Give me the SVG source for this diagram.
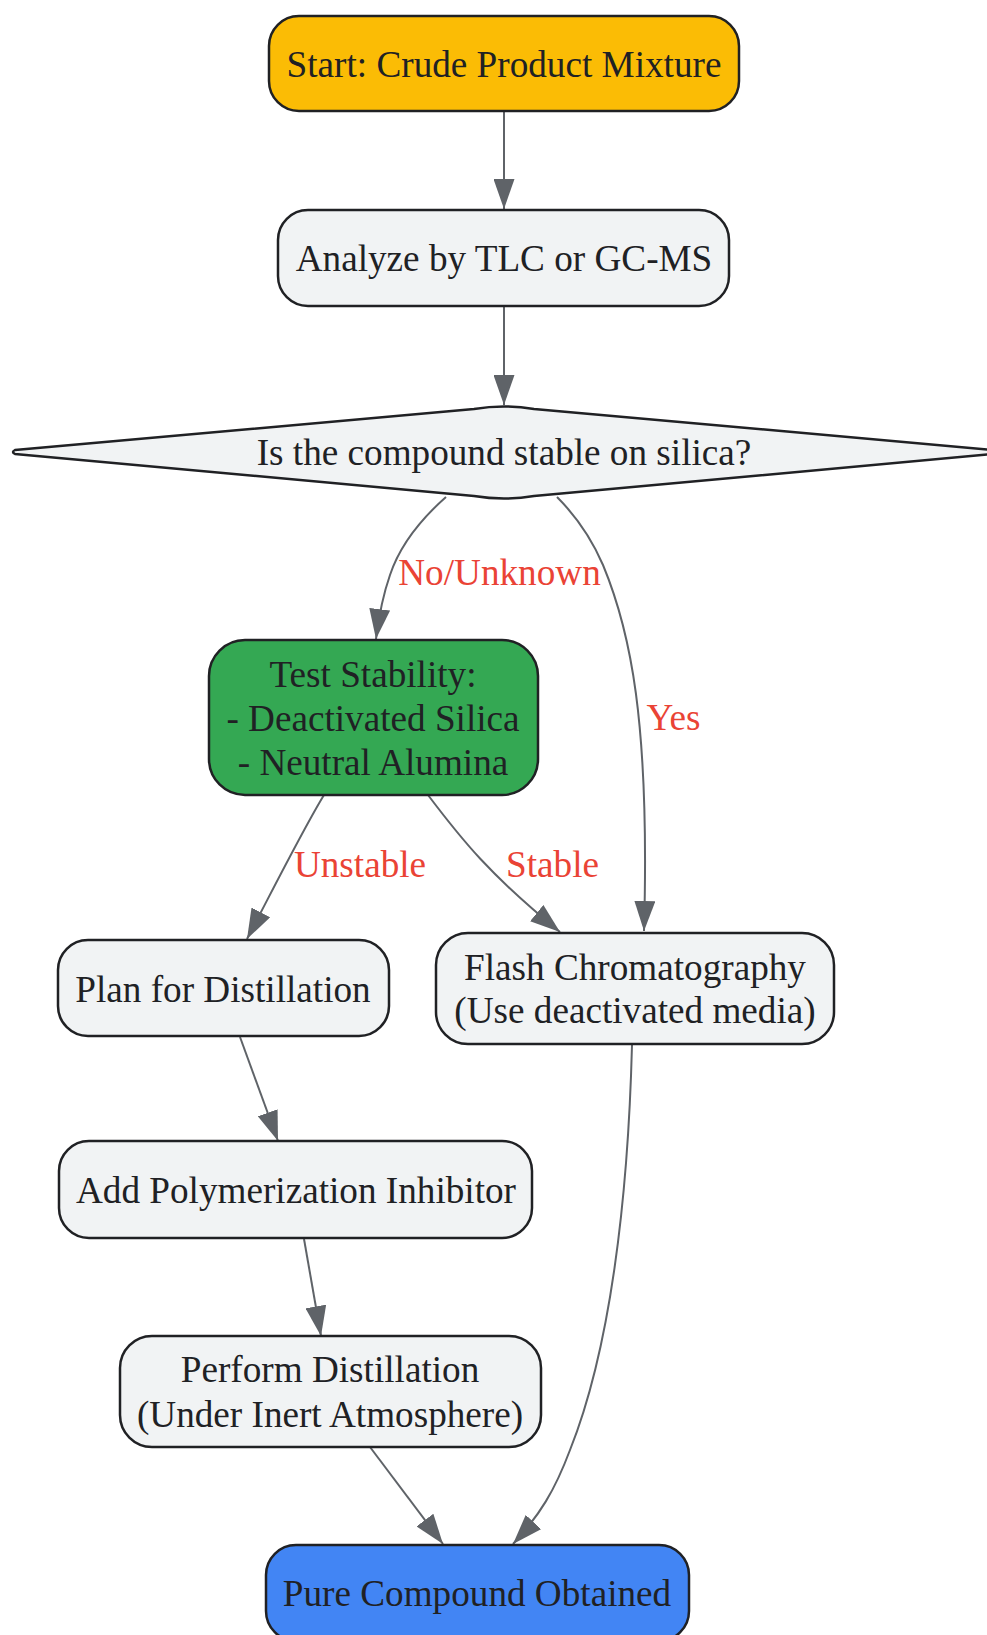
<svg xmlns="http://www.w3.org/2000/svg" width="987" height="1635" viewBox="0 0 987 1635">
<defs>
<style>
.node rect, .node path { stroke: #202124; stroke-width: 2.5; }
.def { fill: #F1F3F4; }
.t { font-family: "Liberation Serif", "Times New Roman", serif; font-size: 37.2px; fill: #202124; text-anchor: middle; }
.lbl { font-family: "Liberation Serif", "Times New Roman", serif; font-size: 37.2px; fill: #EA4335; text-anchor: middle; }
.edge { fill: none; stroke: #5F6368; stroke-width: 2; }
</style>
<marker id="arrow" markerUnits="userSpaceOnUse" markerWidth="30" markerHeight="21" refX="30" refY="10.5" orient="auto">
<path d="M0,0 L30,10.5 L0,21 Z" fill="#5F6368"/>
</marker>
</defs>
<rect width="987" height="1635" fill="#FFFFFF"/>
<g id="connectors">
<path class="edge" marker-end="url(#arrow)" d="M504,111 L504,209"/>
<path class="edge" marker-end="url(#arrow)" d="M504,306 L504,405"/>
<path class="edge" marker-end="url(#arrow)" d="M446,497 C420,520 400,545 390,575 C383,595 379,615 376,639"/>
<path class="edge" marker-end="url(#arrow)" d="M557,497 C575,515 590,535 603,565 C630,630 650,720 644,931"/>
<path class="edge" marker-end="url(#arrow)" d="M324,795 C305,826 285,866 247,939"/>
<path class="edge" marker-end="url(#arrow)" d="M428,795 C462,840 490,875 560,932"/>
<path class="edge" marker-end="url(#arrow)" d="M240,1037 L278,1141"/>
<path class="edge" marker-end="url(#arrow)" d="M304,1239 L321,1336"/>
<path class="edge" marker-end="url(#arrow)" d="M370,1447 L443,1544"/>
<path class="edge" marker-end="url(#arrow)" d="M632,1045 C628,1200 610,1350 570,1450 C555,1490 540,1515 513,1544"/>
<text class="lbl" x="499.5" y="585">No/Unknown</text>
<text class="lbl" x="673.5" y="730">Yes</text>
<text class="lbl" x="360" y="877">Unstable</text>
<text class="lbl" x="552.5" y="877">Stable</text>
</g>
<g id="start" class="node">
<rect x="269" y="16" width="470" height="95" rx="30" fill="#FBBC05"/>
<text class="t" x="504" y="77">Start: Crude Product Mixture</text>
</g>
<g id="analyze" class="node">
<rect x="278" y="210" width="451" height="96" rx="30" class="def"/>
<text class="t" x="504" y="271">Analyze by TLC or GC-MS</text>
</g>
<g id="decision" class="node">
<path class="def" d="M15,450 Q11,452 15,454 L474,496 Q504,501 534,496 L993,454 Q997,452 993,450 L534,409 Q504,404 474,409 Z" stroke-linejoin="round"/>
<text class="t" x="504" y="465">Is the compound stable on silica?</text>
</g>
<g id="test" class="node">
<rect x="209" y="640" width="329" height="155" rx="36" fill="#34A853"/>
<text class="t" x="373" y="687">Test Stability:</text>
<text class="t" x="373" y="731">- Deactivated Silica</text>
<text class="t" x="373" y="775">- Neutral Alumina</text>
</g>
<g id="plan" class="node">
<rect x="58" y="940" width="331" height="96" rx="30" class="def"/>
<text class="t" x="223" y="1002">Plan for Distillation</text>
</g>
<g id="flash" class="node">
<rect x="436" y="933" width="398" height="111" rx="32" class="def"/>
<text class="t" x="635" y="980">Flash Chromatography</text>
<text class="t" x="635" y="1023">(Use deactivated media)</text>
</g>
<g id="inhibitor" class="node">
<rect x="59" y="1141" width="473" height="97" rx="30" class="def"/>
<text class="t" x="296" y="1203">Add Polymerization Inhibitor</text>
</g>
<g id="distill" class="node">
<rect x="120" y="1336" width="421" height="111" rx="32" class="def"/>
<text class="t" x="330" y="1382">Perform Distillation</text>
<text class="t" x="330" y="1427">(Under Inert Atmosphere)</text>
</g>
<g id="pure" class="node">
<rect x="266" y="1545" width="423" height="96" rx="30" fill="#4285F4"/>
<text class="t" x="477" y="1606">Pure Compound Obtained</text>
</g>
</svg>
